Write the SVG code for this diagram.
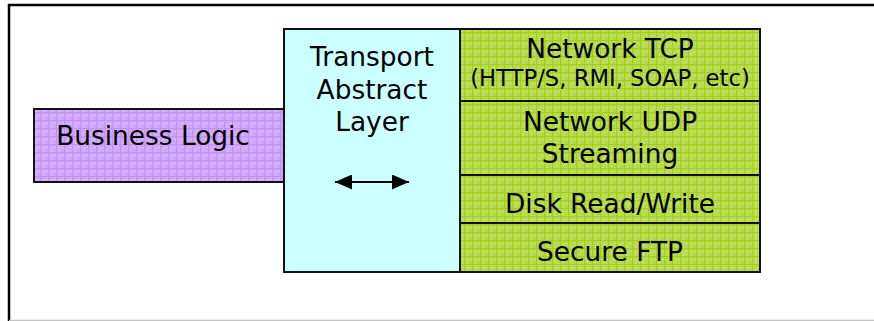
<svg xmlns="http://www.w3.org/2000/svg" width="874" height="321" viewBox="0 0 874 321">
  <defs>
    <!-- woven textures for the filled blocks -->
    <pattern id="lilac" width="8" height="8" patternUnits="userSpaceOnUse">
      <rect width="8" height="8" fill="#d0a6fb"/>
      <path d="M0 0.5H8M0.5 0V8" stroke="#c093f2" stroke-width="1"/>
      <path d="M4 3.5H8M3.5 4V8" stroke="#dab8ff" stroke-width="1"/>
    </pattern>
    <pattern id="lime" width="8" height="8" patternUnits="userSpaceOnUse">
      <rect width="8" height="8" fill="#b6da4c"/>
      <path d="M0 0.5H8M0.5 0V8" stroke="#a2d018" stroke-width="1"/>
      <path d="M4 3.5H8M3.5 4V8" stroke="#c4e26a" stroke-width="1"/>
    </pattern>
    <marker id="head" viewBox="0 0 17 15" refX="17" refY="7.5" markerWidth="17" markerHeight="15" markerUnits="userSpaceOnUse" orient="auto-start-reverse">
      <path d="M0 0L17 7.5L0 15Z" fill="#000"/>
    </marker>
    <style>
      .box { stroke: #111; stroke-width: 2; }
      .lbl { font-family: "DejaVu Sans", Verdana, sans-serif; font-size: 26.4px; fill: #000; text-anchor: middle; }
      .small { font-size: 22.7px; }
    </style>
  </defs>

  <rect width="874" height="321" fill="#fff"/>

  <!-- outer frame -->
  <path d="M9 321V5H874" fill="none" stroke="#000" stroke-width="2.5"/>
  <line x1="9" y1="320.5" x2="874" y2="320.5" stroke="#c4c4c4" stroke-width="1.5"/>

  <g id="business-logic">
    <rect class="box" x="34" y="109" width="260" height="73" fill="url(#lilac)"/>
    <text class="lbl" x="153" y="145">Business Logic</text>
  </g>

  <g id="transport-layer">
    <rect class="box" x="284" y="29" width="176" height="243" fill="#ccffff"/>
    <text class="lbl" x="372" y="66">Transport</text>
    <text class="lbl" x="372" y="99">Abstract</text>
    <text class="lbl" x="372" y="131">Layer</text>
  </g>

  <g id="network-tcp">
    <rect class="box" x="460" y="29" width="300" height="72" fill="url(#lime)"/>
    <text class="lbl" x="610" y="58">Network TCP</text>
    <text class="lbl small" x="610" y="86">(HTTP/S, RMI, SOAP, etc)</text>
  </g>

  <g id="network-udp">
    <rect class="box" x="460" y="101" width="300" height="74" fill="url(#lime)"/>
    <text class="lbl" x="610" y="131">Network UDP</text>
    <text class="lbl" x="610" y="163">Streaming</text>
  </g>

  <g id="disk">
    <rect class="box" x="460" y="175" width="300" height="48" fill="url(#lime)"/>
    <text class="lbl" x="610" y="213">Disk Read/Write</text>
  </g>

  <g id="secure-ftp">
    <rect class="box" x="460" y="223" width="300" height="49" fill="url(#lime)"/>
    <text class="lbl" x="610" y="261">Secure FTP</text>
  </g>

  <g id="connectors">
    <line x1="335" y1="182" x2="409" y2="182" stroke="#000" stroke-width="2" marker-start="url(#head)" marker-end="url(#head)"/>
  </g>
</svg>
